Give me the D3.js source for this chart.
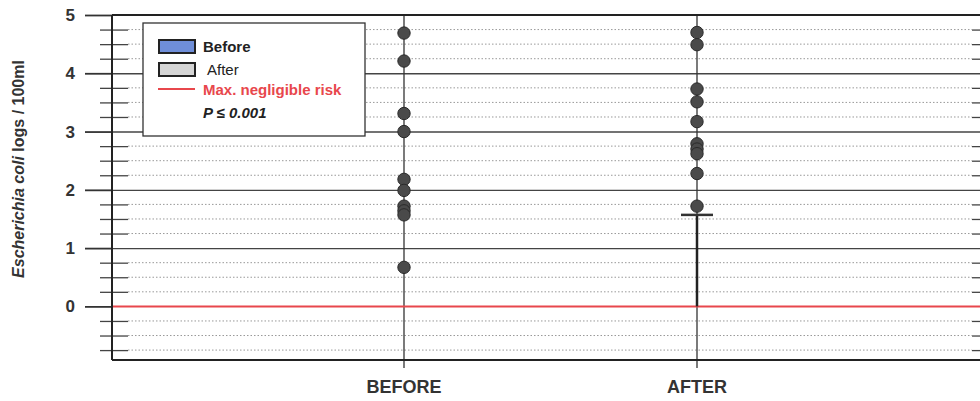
<!DOCTYPE html>
<html>
<head>
<meta charset="utf-8">
<script src="https://cdn.jsdelivr.net/npm/d3@7"></script>
<style>
  body { margin: 0; background: #fff; }
  svg { display: block; font-family: Arial, "Liberation Sans", sans-serif; }
</style>
</head>
<body>
<div id="vis"></div>
<script>
// data (E. coli, log10 / 100ml)
var groups = ["BEFORE", "AFTER"];
var beforeValues = [4.69, 4.21, 3.31, 3.0, 2.18, 1.99, 1.72, 1.64, 1.57, 0.67];
var afterValues = [4.70, 4.49, 3.73, 3.51, 3.17, 2.79, 2.70, 2.62, 2.28, 1.72];
var afterMean = 1.57;
var riskLimit = 0;
var majorTicks = [0, 1, 2, 3, 4, 5];
var minorTicks = [-0.75, -0.5, -0.25, 0.25, 0.5, 0.75, 1.25, 1.5, 1.75, 2.25, 2.5, 2.75,
                  3.25, 3.5, 3.75, 4.25, 4.5, 4.75];

var width = 980, height = 401;
var plotLeft = 112, plotRight = 980, plotTop = 15, plotBottom = 360;

var svg = d3.select("#vis").append("svg")
    .attr("width", width)
    .attr("height", height);

var y = d3.scaleLinear().domain([-0.92, 5]).range([plotBottom, plotTop]);
var x = d3.scalePoint().domain(groups).range([404, 697]);

// minor dotted grid
svg.append("g").selectAll("line").data(minorTicks).enter().append("line")
    .attr("x1", 128).attr("x2", 972)
    .attr("y1", function(d){ return y(d); })
    .attr("y2", function(d){ return y(d); })
    .attr("stroke", "#999")
    .attr("stroke-width", 1)
    .attr("stroke-dasharray", "1.5,2");

// minor ticks (left and right edge)
svg.append("g")
    .attr("transform", "translate(100,0)")
    .call(d3.axisRight(y).tickValues(minorTicks).tickSize(28).tickFormat(""))
    .call(function(g){ g.select(".domain").remove(); })
    .selectAll("line").attr("stroke", "#444").attr("stroke-width", 1.3);
svg.append("g")
    .attr("transform", "translate(972,0)")
    .call(d3.axisRight(y).tickValues(minorTicks).tickSize(10).tickFormat(""))
    .call(function(g){ g.select(".domain").remove(); })
    .selectAll("line").attr("stroke", "#444").attr("stroke-width", 1.3);

// major grid
svg.append("g")
    .attr("transform", "translate(" + plotLeft + ",0)")
    .call(d3.axisRight(y).tickValues(majorTicks.slice(1, 5)).tickSize(plotRight - plotLeft).tickFormat(""))
    .call(function(g){ g.select(".domain").remove(); })
    .selectAll("line").attr("stroke", "#444").attr("stroke-width", 1.4);

// major ticks + labels
var yAxis = svg.append("g")
    .attr("transform", "translate(" + plotLeft + ",0)")
    .call(d3.axisLeft(y).tickValues(majorTicks).tickSize(27).tickPadding(10).tickFormat(d3.format("d")));
yAxis.select(".domain").remove();
yAxis.selectAll("line").attr("stroke", "#333").attr("stroke-width", 1.8);
yAxis.selectAll("text")
    .attr("fill", "#333")
    .style("font-size", "17px")
    .style("font-weight", "bold");

// vertical lines at each group
svg.append("g").selectAll("line").data(groups).enter().append("line")
    .attr("x1", function(d){ return x(d); })
    .attr("x2", function(d){ return x(d); })
    .attr("y1", plotTop).attr("y2", plotBottom + 8)
    .attr("stroke", "#333").attr("stroke-width", 1.3);

// red line: max negligible risk
svg.append("line")
    .attr("x1", plotLeft).attr("x2", plotRight)
    .attr("y1", y(riskLimit)).attr("y2", y(riskLimit))
    .attr("stroke", "#e8474c").attr("stroke-width", 2);

// after mean bar
svg.append("line")
    .attr("x1", x("AFTER")).attr("x2", x("AFTER"))
    .attr("y1", y(0)).attr("y2", y(afterMean))
    .attr("stroke", "#222").attr("stroke-width", 2.5);
svg.append("line")
    .attr("x1", x("AFTER") - 16).attr("x2", x("AFTER") + 16)
    .attr("y1", y(afterMean)).attr("y2", y(afterMean))
    .attr("stroke", "#333").attr("stroke-width", 2.5);

// frame
svg.append("line").attr("x1", plotLeft).attr("x2", plotRight).attr("y1", plotTop).attr("y2", plotTop)
    .attr("stroke", "#222").attr("stroke-width", 2);
svg.append("line").attr("x1", plotLeft).attr("x2", plotRight).attr("y1", plotBottom).attr("y2", plotBottom)
    .attr("stroke", "#222").attr("stroke-width", 2);
svg.append("line").attr("x1", plotLeft).attr("x2", plotLeft).attr("y1", plotTop).attr("y2", plotBottom)
    .attr("stroke", "#222").attr("stroke-width", 2);

// dots
function drawDots(values, group){
    svg.append("g").selectAll("circle").data(values).enter().append("circle")
        .attr("cx", x(group))
        .attr("cy", function(d){ return y(d); })
        .attr("r", 6.2)
        .attr("fill", "#4a4a4a")
        .attr("stroke", "#2a2a2a")
        .attr("stroke-width", 1);
}
drawDots(beforeValues, "BEFORE");
drawDots(afterValues, "AFTER");

// x labels
svg.append("g").selectAll("text").data(groups).enter().append("text")
    .attr("x", function(d){ return x(d); })
    .attr("y", 393)
    .attr("text-anchor", "middle")
    .attr("fill", "#333")
    .style("font-size", "18px")
    .style("font-weight", "bold")
    .text(function(d){ return d; });

// y title
var title = svg.append("text")
    .attr("transform", "translate(24,169) rotate(-90)")
    .attr("text-anchor", "middle")
    .attr("fill", "#333")
    .style("font-size", "16px")
    .style("font-weight", "bold");
title.append("tspan").style("font-style", "italic").text("Escherichia coli");
title.append("tspan").text("  logs / 100ml");

// legend
var lg = svg.append("g");
lg.append("rect").attr("x", 143).attr("y", 23).attr("width", 222).attr("height", 113)
    .attr("fill", "#fff").attr("stroke", "#333").attr("stroke-width", 1.3);
lg.append("rect").attr("x", 159).attr("y", 40).attr("width", 36).attr("height", 13)
    .attr("fill", "#6f8ed8").attr("stroke", "#222").attr("stroke-width", 2);
lg.append("rect").attr("x", 159).attr("y", 63).attr("width", 36).attr("height", 13)
    .attr("fill", "#d4d4d4").attr("stroke", "#222").attr("stroke-width", 2);
lg.append("line").attr("x1", 158).attr("x2", 195).attr("y1", 89).attr("y2", 89)
    .attr("stroke", "#e8474c").attr("stroke-width", 2);
lg.append("text").attr("x", 203).attr("y", 52).text("Before")
    .attr("fill", "#222").style("font-size", "15px").style("font-weight", "bold");
lg.append("text").attr("x", 207).attr("y", 75).text("After")
    .attr("fill", "#222").style("font-size", "15px");
lg.append("text").attr("x", 203).attr("y", 95).text("Max. negligible risk")
    .attr("fill", "#e8474c").style("font-size", "15px").style("font-weight", "bold");
lg.append("text").attr("x", 203).attr("y", 118).text("P \u2264 0.001")
    .attr("fill", "#222").style("font-size", "15px").style("font-weight", "bold").style("font-style", "italic");
</script>
</body>
</html>
